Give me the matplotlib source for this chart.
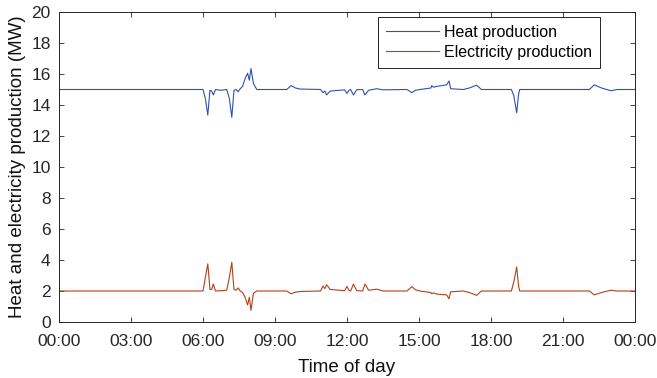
import numpy as np
import matplotlib
matplotlib.use("Agg")
from matplotlib import pyplot as plt

# Breakpoints (hour of day, MW)
heat_hours = [0, 6.0, 6.1, 6.2, 6.29, 6.36, 6.43, 6.52, 6.75, 6.99, 7.1, 7.2, 7.29, 7.38,
              7.46, 7.55, 7.65, 7.75, 7.86, 7.93, 8.0, 8.1, 8.24, 9.49, 9.67, 9.85, 10.04,
              10.9, 11.0, 11.08, 11.15, 11.3, 11.9, 12.0, 12.08, 12.15, 12.27, 12.4, 12.65,
              12.75, 12.9, 13.24, 13.5, 14.5, 14.7, 14.85, 15.04, 15.5, 15.53, 15.6, 15.74,
              16.15, 16.25, 16.32, 16.85, 17.1, 17.4, 17.6, 18.85, 18.95, 19.07, 19.15, 19.2,
              22.1, 22.3, 22.6, 23.0, 23.25, 24]
heat_mw = [15.0, 15.0, 14.4, 13.35, 14.95, 14.9, 14.65, 15.0, 14.95, 15.0, 14.4, 13.2, 14.95, 15.0,
           14.85, 15.05, 15.2, 15.7, 16.05, 15.6, 16.35, 15.4, 15.0, 15.0, 15.25, 15.1, 15.03,
           15.0, 14.8, 14.9, 14.65, 14.9, 14.98, 14.75, 14.95, 15.0, 14.65, 14.98, 15.0,
           14.65, 14.95, 15.05, 14.98, 15.0, 14.8, 14.95, 15.0, 15.1, 15.25, 15.15, 15.2,
           15.3, 15.55, 15.05, 15.0, 15.1, 15.28, 15.0, 15.0, 14.6, 13.5, 14.7, 15.0,
           15.0, 15.3, 15.1, 14.92, 15.0, 15.0]

elec_hours = heat_hours
elec_mw = [2.0, 2.0, 2.9, 3.75, 2.1, 2.1, 2.45, 2.0, 2.02, 2.05, 2.9, 3.85, 2.1, 2.05,
           2.2, 2.0, 1.9, 1.6, 1.1, 1.6, 0.75, 1.85, 2.0, 2.0, 1.82, 1.92, 1.97,
           2.0, 2.32, 2.15, 2.4, 2.1, 2.02, 2.3, 2.05, 2.0, 2.45, 2.02, 2.0,
           2.45, 2.05, 2.12, 2.0, 2.0, 2.28, 2.08, 2.0, 1.9, 1.82, 1.88, 1.8,
           1.75, 1.5, 1.95, 2.0, 1.9, 1.72, 2.0, 2.0, 2.6, 3.55, 2.3, 2.0,
           2.0, 1.75, 1.9, 2.05, 2.0, 2.0]

x_ticks = [0, 3, 6, 9, 12, 15, 18, 21, 24]
x_labels = ["00:00", "03:00", "06:00", "09:00", "12:00", "15:00", "18:00", "21:00", "00:00"]
y_ticks = list(range(0, 21, 2))

plt.rcParams['font.family'] = ['Liberation Sans', 'DejaVu Sans']

fig = plt.figure(figsize=(6.57, 3.78), dpi=100)
ax = fig.add_axes([59 / 657, 56 / 378, 576 / 657, 310 / 378])

ax.plot(heat_hours, heat_mw, color='#3050B0', lw=0.8, label='Heat production')
ax.plot(elec_hours, elec_mw, color='#B0401A', lw=0.8, label='Electricity production')

ax.set_xlim(0, 24)
ax.set_ylim(0, 20)
ax.set_xticks(x_ticks)
ax.set_xticklabels(x_labels)
ax.set_yticks(y_ticks)
ax.tick_params(direction='in', length=3.5, width=0.6, colors='#262626',
               top=True, right=True, labelsize=12.5)
ax.tick_params(axis='x', pad=9)
ax.tick_params(axis='y', pad=6)
for s in ax.spines.values():
    s.set_color('#262626')
    s.set_linewidth(0.7)

ax.set_xlabel('Time of day', fontsize=13.5, color='#111111', labelpad=7)
ax.set_ylabel('Heat and electricity production (MW)', fontsize=13.5, color='#111111', labelpad=4)

# legend box: left edge at ~x=378 px, top at ~y=17 px
leg = ax.legend(loc='upper left', bbox_to_anchor=(0.554, 0.984), fontsize=11.5,
                fancybox=False, framealpha=1, edgecolor='#262626', handlelength=3.3,
                handletextpad=0.3, borderpad=0.5, labelspacing=0.3, borderaxespad=0)
leg.get_frame().set_linewidth(0.7)

fig.savefig('out.png', dpi=100)
